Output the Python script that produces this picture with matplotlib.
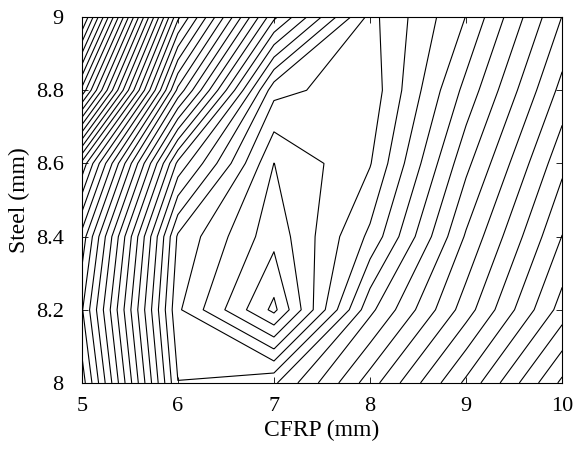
import numpy as np
import matplotlib
matplotlib.use("Agg")
import matplotlib.pyplot as plt

plt.rcParams["font.family"] = ["Liberation Serif", "DejaVu Serif"]

# grid of the design variables
cfrp = [5, 6, 7, 8, 9, 10]
steel = [8.0, 8.2, 8.4, 8.6, 8.8, 9.0]

# response values, one row per steel thickness
z_800 = [19.8, 5.3, 6.1, 10.8, 15.5, 20.5]
z_820 = [18.4, 4.44, 0.0, 8.0, 12.8, 17.7]
z_840 = [19.9, 5.1, 1.6, 5.5, 11.4, 16.3]
z_860 = [24.0, 9.0, 2.26, 4.2, 10.0, 15.0]
z_880 = [34.0, 16.0, 4.6, 3.63, 8.6, 13.6]
z_900 = [40.5, 21.5, 10.5, 3.94, 7.3, 12.3]

levels = 0.27 + np.arange(0, 41)

Z = np.array([z_800, z_820, z_840, z_860, z_880, z_900])
X, Y = np.meshgrid(cfrp, steel)

fig = plt.figure(figsize=(5.76, 4.5), dpi=100)
ax = fig.add_axes([0.142, 0.149, 0.834, 0.813])
ax.contour(X, Y, Z, levels=levels, colors="black", linewidths=0.8, linestyles="solid")

ax.set_xlim(5, 10)
ax.set_ylim(8, 9)
ax.set_xticks(cfrp)
ax.set_yticks(steel)
ax.set_yticklabels(["8", "8.2", "8.4", "8.6", "8.8", "9"])
ax.tick_params(direction="in", top=True, right=True, labelsize=16, length=4, width=0.6)
ax.tick_params(axis="x", pad=10)
ax.tick_params(axis="y", pad=13)
for s in ax.spines.values():
    s.set_linewidth(0.8)
ax.set_xlabel("CFRP (mm)", fontsize=17, labelpad=3)
ax.set_ylabel("Steel (mm)", fontsize=17, labelpad=4)

fig.savefig("out.png", dpi=100)
